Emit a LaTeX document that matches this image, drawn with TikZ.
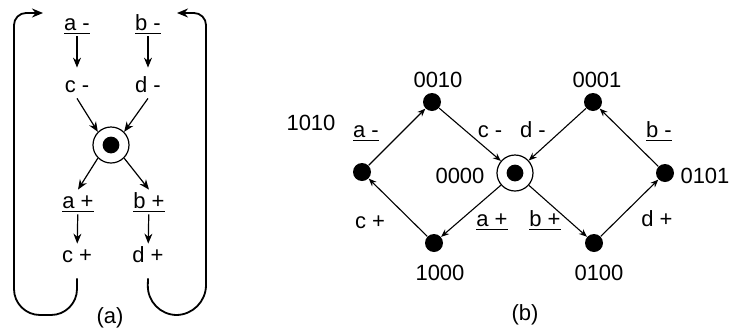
\documentclass[tikz,border=0pt]{standalone}
\usepackage{fontspec}
\setmainfont{Liberation Sans}
\usetikzlibrary{arrows.meta}
\tikzset{
  txt/.style  = {font=\fontsize{11}{13}\selectfont, inner sep=1pt,
                 text height=8pt, text depth=2pt, anchor=base},
  dot/.style  = {circle, fill=black, minimum size=9pt, inner sep=0pt},
  home/.style = {circle, draw, line width=0.6pt, minimum size=18pt, inner sep=0pt,
                 path picture={\fill (path picture bounding box.center) circle (4.2pt);}},
  arr/.style  = {-{Stealth[length=5pt,width=4pt]}, line width=0.6pt},
  sarr/.style = {-{Stealth[length=4pt,width=3.2pt]}, line width=0.55pt},
  back/.style = {-{Stealth[length=5.5pt,width=4.5pt]}, line width=0.9pt},
}

\begin{document}
\begin{tikzpicture}[x=0.5pt, y=-0.5pt]
  \useasboundingbox (0,0) rectangle (730,333);

  % (a) -- the two cycles
  \node[txt] (am) at (77,30)  {\underline{a -}};
  \node[txt] (bm) at (148,30) {\underline{b -}};
  \node[txt] (cm) at (77,92)  {c -};
  \node[txt] (dm) at (148,92) {d -};
  \node[home] (ctr) at (111,145) {};
  \node[txt] (ap) at (78,208)  {\underline{a +}};
  \node[txt] (bp) at (149,208) {\underline{b +}};
  \node[txt] (cp) at (77,262)  {c +};
  \node[txt] (dp) at (148,262) {d +};
  \node[txt] (capa) at (110,323) {(a)};

  \foreach \a/\b in {am/cm, bm/dm}
    \draw[arr, shorten >=3pt] (\a) -- (\b);
  \foreach \a/\b in {ap/cp, bp/dp}
    \draw[arr] (\a) -- (\b);
  \draw[arr] (cm.south) -- (ctr.north west);
  \draw[arr] (dm.south) -- (ctr.north east);
  \draw[arr] (ctr.south west) -- (ap.north);
  \draw[arr] (ctr.south east) -- (bp.north);

  \coordinate (ltip) at (43,13);
  \coordinate (rtip) at (177,13);
  \draw[back] ([yshift=-5pt]cp.south) [rounded corners=13pt] -- (77,315) -- (14,315)
    [rounded corners=6pt] -- (14,13) -- (ltip);
  \draw[back] ([yshift=-5pt]dp.south) [rounded corners=15pt] -- (147,315) -- (206,315)
    [rounded corners=6pt] -- (206,13) -- (rtip);

  % (b) -- the state graph
  \node[dot]  (n1010) at (362,172) {};
  \node[dot]  (n0010) at (432,102) {};
  \node[dot]  (n0001) at (593,102) {};
  \node[home] (n0000) at (515,173) {};
  \node[dot]  (n0101) at (665,173) {};
  \node[dot]  (n1000) at (434,243) {};
  \node[dot]  (n0100) at (594,243) {};

  \node[txt] (t1010) at (311,130) {1010};
  \node[txt] (t0010) at (438,87)  {0010};
  \node[txt] (t0001) at (597,87)  {0001};
  \node[txt] (t0000) at (460,183) {0000};
  \node[txt] (t0101) at (705,183) {0101};
  \node[txt] (t1000) at (440,280) {1000};
  \node[txt] (t0100) at (599,280) {0100};
  \node[txt] (capb)  at (525,320) {(b)};

  \node[txt] (la)  at (366,137) {\underline{a -}};
  \node[txt] (lc)  at (490,137) {c -};
  \node[txt] (ld)  at (533,137) {d -};
  \node[txt] (lb)  at (659,137) {\underline{b -}};
  \node[txt] (lcp) at (370,228) {c +};
  \node[txt] (lap) at (492,226) {\underline{a +}};
  \node[txt] (lbp) at (545,226) {\underline{b +}};
  \node[txt] (ldp) at (657,226) {d +};

  \foreach \a/\b in {n1010/n0010, n0010/n0000, n0001/n0000, n0101/n0001,
                     n0000/n1000, n1000/n1010, n0000/n0100, n0100/n0101}
    \draw[sarr] (\a) -- (\b);

\end{tikzpicture}
\end{document}
